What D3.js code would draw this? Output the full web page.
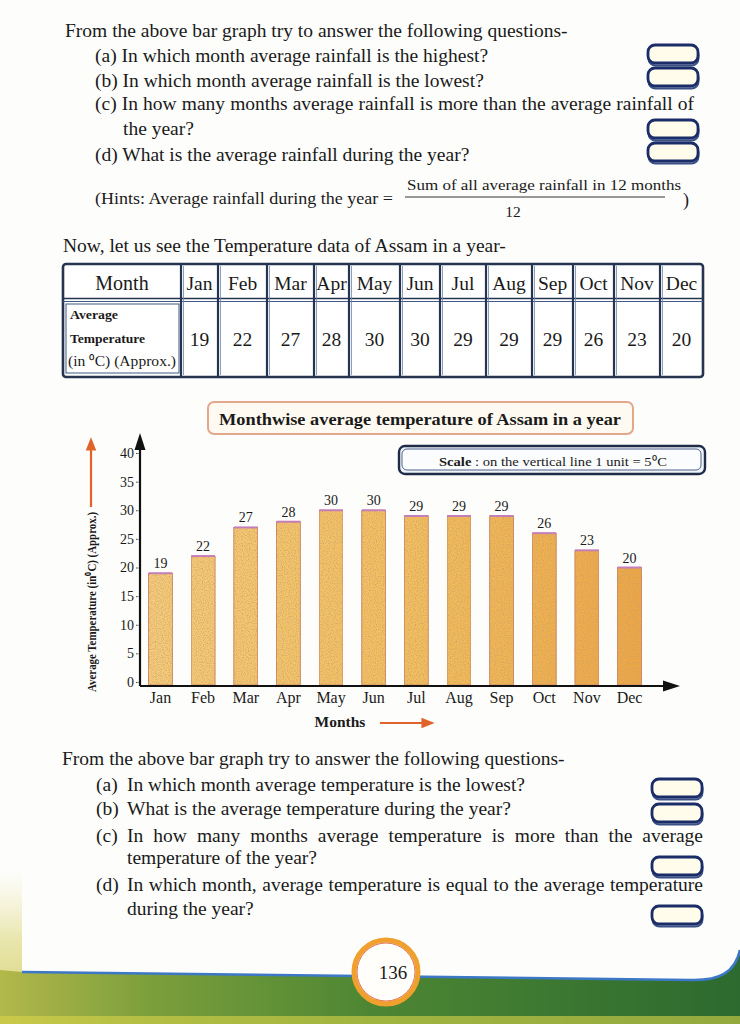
<!DOCTYPE html>
<html><head><meta charset="utf-8">
<script src="https://cdn.jsdelivr.net/npm/d3@7"></script>
<style>
body{margin:0;background:#fff}
svg{display:block}
text{font-family:"Liberation Serif","Times New Roman",serif;fill:#1a1a1a}
</style>
</head><body>
<svg id="page" width="740" height="1024"></svg>
<script>
// ---- data ----
const months = ["Jan","Feb","Mar","Apr","May","Jun","Jul","Aug","Sep","Oct","Nov","Dec"];
const temps = [19,22,27,28,30,30,29,29,29,26,23,20];
const yTicks = [0,5,10,15,20,25,30,35,40];
const rainQuestions = [
  "(a) In which month average rainfall is the highest?",
  "(b) In which month average rainfall is the lowest?",
  "(c) In how many months average rainfall is more than the average rainfall of",
  "the year?",
  "(d) What is the average rainfall during the year?"
];
const tempQuestions = [
  ["(a)","In which month average temperature is the lowest?"],
  ["(b)","What is the average temperature during the year?"],
  ["(c)","In how many months average temperature is more than the average"],
  ["","temperature of the year?"],
  ["(d)","In which month, average temperature is equal to the average temperature"],
  ["","during the year?"]
];
const chartTitle = "Monthwise average temperature of  Assam in a year";
const yLabel = "Average Temperature (in\u2070C) (Approx.)";
const xLabel = "Months";

const svg = d3.select("#page");
const defs = svg.append("defs");

function justify(sel, target){
  const n = sel.node();
  const nat = n.getComputedTextLength();
  const spaces = (n.textContent.match(/ /g)||[]).length;
  if(spaces) sel.style("word-spacing", ((target-nat)/spaces)+"px");
}

// background
svg.append("rect").attr("width",740).attr("height",1024).attr("fill","#fdfdfb");

// gradients / filters
const barGrad = defs.append("linearGradient").attr("id","barGrad")
  .attr("gradientUnits","userSpaceOnUse").attr("x1",140).attr("x2",650).attr("y1",0).attr("y2",0);
barGrad.append("stop").attr("offset","0%").attr("stop-color","#f5cb7a");
barGrad.append("stop").attr("offset","55%").attr("stop-color","#f3be5d");
barGrad.append("stop").attr("offset","100%").attr("stop-color","#eea541");

const grain = defs.append("filter").attr("id","grain").attr("x","0").attr("y","0").attr("width","1").attr("height","1");
grain.append("feTurbulence").attr("type","fractalNoise").attr("baseFrequency","0.85").attr("numOctaves","1").attr("seed","3").attr("result","noise");
grain.append("feColorMatrix").attr("in","noise").attr("type","matrix")
  .attr("values","0 0 0 0 0.55  0 0 0 0 0.35  0 0 0 0 0.15  0 0 0 -2.2 1.25").attr("result","dots");
grain.append("feComposite").attr("in","dots").attr("in2","SourceGraphic").attr("operator","in").attr("result","dotsIn");
const fm = grain.append("feMerge");
fm.append("feMergeNode").attr("in","SourceGraphic");
fm.append("feMergeNode").attr("in","dotsIn");

const greenGrad = defs.append("linearGradient").attr("id","greenGrad").attr("x1","0").attr("x2","1").attr("y1","0").attr("y2","0");
greenGrad.append("stop").attr("offset","0%").attr("stop-color","#b3b84a");
greenGrad.append("stop").attr("offset","20%").attr("stop-color","#7c9f3c");
greenGrad.append("stop").attr("offset","50%").attr("stop-color","#4d8633");
greenGrad.append("stop").attr("offset","100%").attr("stop-color","#2c6a2f");
const leftGrad = defs.append("linearGradient").attr("id","leftGrad").attr("x1","0").attr("x2","0").attr("y1","0").attr("y2","1");
leftGrad.append("stop").attr("offset","0%").attr("stop-color","#eeeab8").attr("stop-opacity",0);
leftGrad.append("stop").attr("offset","45%").attr("stop-color","#e4e09a").attr("stop-opacity",0.8);
leftGrad.append("stop").attr("offset","100%").attr("stop-color","#cfcf68");

const arrowOrange = defs.append("marker").attr("id","arrO").attr("viewBox","0 0 10 10")
  .attr("refX",8).attr("refY",5).attr("markerWidth",6).attr("markerHeight",6).attr("orient","auto");
arrowOrange.append("path").attr("d","M0,1 L10,5 L0,9 Z").attr("fill","#e0632a");

// ---- answer boxes ----
function answerBox(g,x,y,w,h){
  g.append("rect").attr("x",x+0.5).attr("y",y+2.5).attr("width",w).attr("height",h).attr("rx",7)
    .attr("fill","#dfe6f2").attr("stroke","#3b5185").attr("stroke-width",2);
  g.append("rect").attr("x",x).attr("y",y).attr("width",w).attr("height",h).attr("rx",7)
    .attr("fill","#fffcec").attr("stroke","#1b2d68").attr("stroke-width",2.8);
}
const topG = svg.append("g");
answerBox(topG,648,45,50,18); answerBox(topG,648,68,50,18);
answerBox(topG,648,120,50,18); answerBox(topG,648,143,50,18);

// ---- top text ----
topG.append("text").attr("x",65).attr("y",37).attr("font-size",19.5)
  .text("From the above bar graph try to answer the following questions-");
const rqPos = [[95,62],[95,87],[95,110],[123,135],[95,161]];
rainQuestions.forEach((q,i)=>{
  const t = topG.append("text").attr("x",rqPos[i][0]).attr("y",rqPos[i][1]).attr("font-size",19.5).text(q);
  if(i===2) justify(t, 599);
});
topG.append("text").attr("x",95).attr("y",204).attr("font-size",17)
  .attr("textLength",298).attr("lengthAdjust","spacingAndGlyphs")
  .text("(Hints: Average rainfall during the year =");
topG.append("text").attr("x",407).attr("y",190).attr("font-size",15.5)
  .attr("textLength",274).attr("lengthAdjust","spacingAndGlyphs")
  .text("Sum of all average rainfall in 12 months");
topG.append("line").attr("x1",405).attr("x2",665).attr("y1",197).attr("y2",197).attr("stroke","#333").attr("stroke-width",1);
topG.append("text").attr("x",513).attr("y",217).attr("font-size",15.5).attr("text-anchor","middle").text("12");
topG.append("text").attr("x",683).attr("y",206).attr("font-size",18).text(")");

topG.append("text").attr("x",63).attr("y",252).attr("font-size",19.5)
  .text("Now, let us see the Temperature data of Assam in a year-");

// ---- table ----
const colEdges = [63,181,218,267,314,349,400,440,486,532,573,614,660,703];
const tT = 264, tMid = 300, tB = 377;
const tab = svg.append("g");
tab.append("rect").attr("x",63).attr("y",tT).attr("width",640).attr("height",tB-tT).attr("rx",3)
  .attr("fill","#fff").attr("stroke","#26344f").attr("stroke-width",2.6);
tab.append("line").attr("x1",63).attr("x2",703).attr("y1",tMid-1.5).attr("y2",tMid-1.5).attr("stroke","#26344f").attr("stroke-width",1.6);
tab.append("line").attr("x1",63).attr("x2",703).attr("y1",tMid+1.5).attr("y2",tMid+1.5).attr("stroke","#3e5a86").attr("stroke-width",1.2);
tab.append("rect").attr("x",66).attr("y",tMid+4).attr("width",113).attr("height",tB-tMid-8)
  .attr("fill","none").attr("stroke","#3e5a86").attr("stroke-width",1);
colEdges.slice(1,-1).forEach(x=>{
  tab.append("line").attr("x1",x).attr("x2",x).attr("y1",tT).attr("y2",tB).attr("stroke","#26344f").attr("stroke-width",2.2);
  tab.append("line").attr("x1",x+2.5).attr("x2",x+2.5).attr("y1",tT+2).attr("y2",tB-2).attr("stroke","#6f86aa").attr("stroke-width",0.8);
});
tab.append("text").attr("x",(colEdges[0]+colEdges[1])/2).attr("y",290).attr("font-size",20).attr("text-anchor","middle").text("Month");
months.forEach((m,i)=>{
  const cx = (colEdges[i+1]+colEdges[i+2])/2;
  tab.append("text").attr("x",cx).attr("y",290).attr("font-size",19.5).attr("text-anchor","middle").text(m);
  tab.append("text").attr("x",cx).attr("y",346).attr("font-size",19.5).attr("text-anchor","middle").text(temps[i]);
});
tab.append("text").attr("x",70).attr("y",319).attr("font-size",13.5).attr("font-weight","bold")
  .attr("textLength",48).attr("lengthAdjust","spacingAndGlyphs").text("Average");
tab.append("text").attr("x",70).attr("y",343).attr("font-size",13.5).attr("font-weight","bold")
  .attr("textLength",75).attr("lengthAdjust","spacingAndGlyphs").text("Temperature");
tab.append("text").attr("x",68).attr("y",366).attr("font-size",14)
  .attr("textLength",108).attr("lengthAdjust","spacingAndGlyphs").text("(in \u2070C) (Approx.)");

// ---- chart title & scale box ----
svg.append("rect").attr("x",208).attr("y",402).attr("width",425).attr("height",32).attr("rx",6)
  .attr("fill","#fffaf1").attr("stroke","#e3a88c").attr("stroke-width",2);
svg.append("text").attr("x",420).attr("y",425).attr("font-size",17.5).attr("font-weight","bold")
  .attr("text-anchor","middle").attr("textLength",402).attr("lengthAdjust","spacingAndGlyphs").text(chartTitle);

svg.append("rect").attr("x",399).attr("y",446).attr("width",306).attr("height",28).attr("rx",6)
  .attr("fill","#eef3f7").attr("stroke","#1f2c48").attr("stroke-width",2.4);
svg.append("rect").attr("x",402).attr("y",449).attr("width",299).attr("height",21).attr("rx",5)
  .attr("fill","#fbfcfd").attr("stroke","#50638a").attr("stroke-width",1);
const sc = svg.append("text").attr("x",439).attr("y",466).attr("font-size",13)
  .attr("textLength",228).attr("lengthAdjust","spacingAndGlyphs");
sc.append("tspan").attr("font-weight","bold").text("Scale");
sc.append("tspan").text("  : on the vertical line 1 unit = 5\u2070C");

// ---- chart ----
const x = d3.scaleBand().domain(months).range([140,650]).paddingInner(0.44).paddingOuter(0.2);
const y = d3.scaleLinear().domain([0,40]).range([682,453]);
const axisY = 686;

const chart = svg.append("g");
chart.selectAll("rect.bar").data(months).join("rect").attr("class","bar")
  .attr("x",d=>x(d)).attr("width",x.bandwidth())
  .attr("y",(d,i)=>y(temps[i])).attr("height",(d,i)=>axisY-1-y(temps[i]))
  .attr("fill","url(#barGrad)").attr("filter","url(#grain)")
  .attr("stroke","#cf7f5e").attr("stroke-width",0.9);
chart.selectAll("line.top").data(months).join("line").attr("class","top")
  .attr("x1",d=>x(d)).attr("x2",d=>x(d)+x.bandwidth())
  .attr("y1",(d,i)=>y(temps[i])).attr("y2",(d,i)=>y(temps[i]))
  .attr("stroke","#c57fb8").attr("stroke-width",2);
chart.selectAll("text.val").data(months).join("text").attr("class","val")
  .attr("x",d=>x(d)+x.bandwidth()/2).attr("y",(d,i)=>y(temps[i])-5)
  .attr("text-anchor","middle").attr("font-size",14).text((d,i)=>temps[i]);

// y axis ticks
const yAx = svg.append("g").attr("transform","translate(140,0)")
  .call(d3.axisLeft(y).tickValues(yTicks).tickSize(4).tickPadding(2));
yAx.select(".domain").remove();
yAx.selectAll(".tick line").attr("stroke","#444").attr("stroke-dasharray","1.5,1");
yAx.selectAll(".tick text").attr("font-size",14).attr("fill","#222");

// axes lines + arrows
svg.append("line").attr("x1",140).attr("x2",140).attr("y1",axisY).attr("y2",445).attr("stroke","#111").attr("stroke-width",2.2);
svg.append("path").attr("d","M140,433 L134.5,450 L145.5,450 Z").attr("fill","#111");
svg.append("line").attr("x1",140).attr("x2",666).attr("y1",axisY).attr("y2",axisY).attr("stroke","#111").attr("stroke-width",2.2);
svg.append("path").attr("d",`M680,${axisY} L663,${axisY-5.5} L663,${axisY+5.5} Z`).attr("fill","#111");

// x tick labels
const xAx = svg.append("g").attr("transform",`translate(0,${axisY})`)
  .call(d3.axisBottom(x).tickSize(0).tickPadding(6));
xAx.select(".domain").remove();
xAx.selectAll(".tick text").attr("font-size",16).attr("fill","#1a1a1a");

// axis titles
svg.append("text").attr("x",340).attr("y",727).attr("font-size",15.5).attr("font-weight","bold")
  .attr("text-anchor","middle").text(xLabel);
svg.append("line").attr("x1",380).attr("x2",432).attr("y1",723).attr("y2",723)
  .attr("stroke","#e0632a").attr("stroke-width",2.2).attr("marker-end","url(#arrO)");
svg.append("text").attr("transform","translate(96,602) rotate(-90)").attr("font-size",13)
  .attr("font-weight","bold").attr("text-anchor","middle")
  .attr("textLength",180).attr("lengthAdjust","spacingAndGlyphs").text(yLabel);
svg.append("line").attr("x1",91).attr("x2",91).attr("y1",507).attr("y2",440)
  .attr("stroke","#e0632a").attr("stroke-width",2.2).attr("marker-end","url(#arrO)");

// ---- bottom questions ----
const botG = svg.append("g");
botG.append("text").attr("x",62).attr("y",765).attr("font-size",19.5)
  .text("From the above bar graph try to answer the following questions-");
const tqY = [791,815,842,864,891,915];
tempQuestions.forEach((q,i)=>{
  if(q[0]) botG.append("text").attr("x",96).attr("y",tqY[i]).attr("font-size",19.5).text(q[0]);
  const t = botG.append("text").attr("x",127).attr("y",tqY[i]).attr("font-size",19.5).text(q[1]);
  if(i===2 || i===4) justify(t, 576);
});
answerBox(botG,652,779,50,18); answerBox(botG,652,804,50,18);
answerBox(botG,652,857,50,18); answerBox(botG,652,906,50,18);

// ---- footer band ----
svg.append("rect").attr("x",0).attr("y",870).attr("width",22).attr("height",154).attr("fill","url(#leftGrad)");
svg.append("path")
  .attr("d","M0,970 L22,972 L360,976 L690,980 C720,981 735,972 740,950 L740,1024 L0,1024 Z")
  .attr("fill","url(#greenGrad)");
svg.append("path")
  .attr("d","M22,972 L360,976 L690,980 C720,981 735,972 740,950")
  .attr("fill","none").attr("stroke","#3d78c7").attr("stroke-width",2.6);
svg.append("rect").attr("x",0).attr("y",1016).attr("width",740).attr("height",8).attr("fill","#d9d34a").attr("opacity",0.6);
svg.append("circle").attr("cx",386).attr("cy",972).attr("r",32)
  .attr("fill","#fffefa").attr("stroke","#f0a02c").attr("stroke-width",5);
svg.append("circle").attr("cx",386).attr("cy",972).attr("r",29)
  .attr("fill","none").attr("stroke","#d9532a").attr("stroke-width",0.8);
svg.append("text").attr("x",393).attr("y",979).attr("font-size",19).attr("text-anchor","middle").text("136");
</script>
</body></html>
